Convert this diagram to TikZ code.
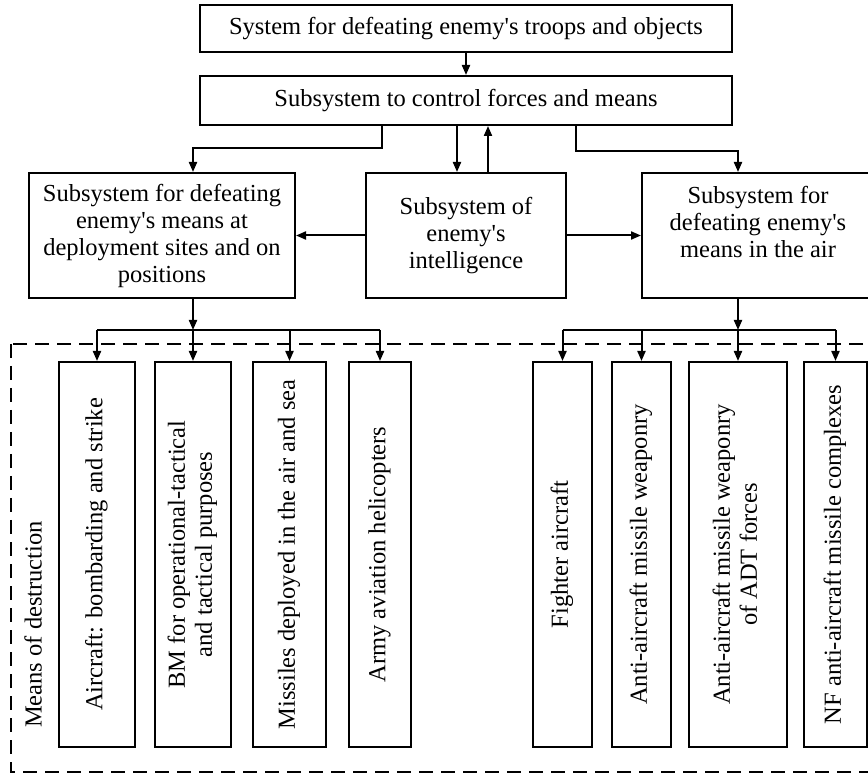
\documentclass[tikz,border=0pt]{standalone}
\usepackage{fontspec}
\setmainfont{Liberation Serif}
\usepackage{graphicx}
\usetikzlibrary{positioning,arrows.meta}

\tikzset{
  box/.style={draw,line width=2pt,align=center,inner sep=0pt},
  tall/.style={box,minimum height=385pt},
  bus/.style={line width=2pt},
  frame/.style={line width=2pt,dash pattern=on 14pt off 8pt},
}
\newcommand{\up}[1]{\rotatebox{90}{\begin{tabular}{@{}c@{}}#1\end{tabular}}}
\newcommand{\q}{\textquotesingle}

\begin{document}
\begin{tikzpicture}[x=1pt,y=-1pt,>={Triangle[length=10pt,width=8pt]},
    line width=2pt,font=\fontsize{24.5}{27}\selectfont]
	\clip (0,0) rectangle (868,775);
	\node[box,minimum width=532pt,minimum height=47pt] (S) at (466,28.5) {System for defeating enemy\q s troops and objects};
	\node[box,minimum width=532pt,minimum height=49pt] (C) [below=22pt of S] {Subsystem to control forces and means};
	\node[box,minimum width=200pt,minimum height=125pt] (I) [below=46pt of C] {Subsystem of\\enemy\q s\\intelligence};
	\node[box,minimum width=266pt,minimum height=125pt] (L) [left=69pt of I] {Subsystem for defeating\\enemy\q s means at\\deployment sites and on\\positions};
	\node[box,minimum width=232pt,minimum height=125pt] (R) [right=74pt of I] {Subsystem for\\defeating enemy\q s\\means in the air\\\mbox{}};

	\draw[frame] (11,344) rectangle (900,772);
	\node[rotate=90] (M) at (33,624.5) {Means of destruction};

	\node[tall,minimum width=76pt] (L1) at (97,554.5) {\up{Aircraft: bombarding and strike}};
	\node[tall,minimum width=76pt] (L2) [right=18pt of L1] {\up{BM for operational-tactical\\and tactical purposes}};
	\node[tall,minimum width=73pt] (L3) [right=20pt of L2] {\up{Missiles deployed in the air and sea}};
	\node[tall,minimum width=62pt] (L4) [right=21pt of L3] {\up{Army aviation helicopters}};
	\node[tall,minimum width=59pt] (R1) [right=120pt of L4] {\up{Fighter aircraft}};
	\node[tall,minimum width=59pt] (R2) [right=18pt of R1] {\up{Anti-aircraft missile weaponry}};
	\node[tall,minimum width=98pt] (R3) [right=16pt of R2] {\up{Anti-aircraft missile weaponry\\of ADT forces}};
	\node[tall,minimum width=63pt] (R4) [right=15pt of R3] {\up{NF anti-aircraft missile complexes}};

	\coordinate (LB) at (0,330);
	\coordinate (RB) at (0,330);

	\draw[->] (S) -- (C);
	\draw[->] ([xshift=-84pt]C.south) -- ++(0,22) -| (L2 |- L.north);
	\draw[->] ([xshift=110pt]C.south) -- ++(0,25) -| (R3 |- R.north);
	\draw[->] ([xshift=-9pt]C.south) -- ([xshift=-9pt]C.south |- I.north);
	\draw[->] ([xshift=22pt]I.north) -- ([xshift=22pt]I.north |- C.south);
	\draw[->] (I.west) -- (L.east);
	\draw[->] (I.east) -- (R.west);

	\draw[->] (L2 |- L.south) -- (L2 |- LB);
	\draw[bus] (L1 |- LB) -- (L4 |- LB);
	\foreach \n in {L1,L2,L3,L4}
		\draw[->] (\n |- LB) -- (\n.north);
	\draw[->] (R3 |- R.south) -- (R3 |- RB);
	\draw[bus] (R1 |- RB) -- (R4 |- RB);
	\foreach \n in {R1,R2,R3,R4}
		\draw[->] (\n |- RB) -- (\n.north);
\end{tikzpicture}
\end{document}
